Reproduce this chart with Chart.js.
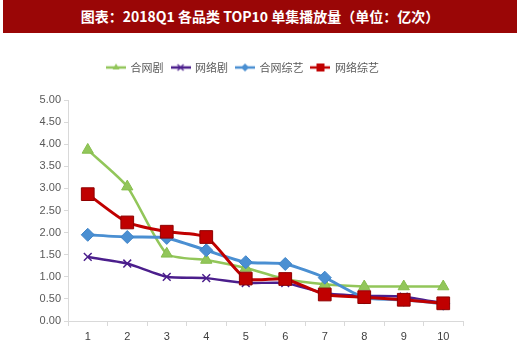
<!DOCTYPE html>
<html>
<head>
<meta charset="utf-8">
<script src="https://cdn.jsdelivr.net/npm/chart.js@4/dist/chart.umd.min.js"></script>
<style>
  html, body { margin: 0; padding: 0; background: #ffffff; }
  #wrap { position: relative; width: 520px; height: 346px; }
  #banner { position: absolute; left: 3px; top: 0; width: 514px; height: 33px; background: #9a0606;
            color: #ffffff; font-family: "Noto Sans CJK SC", "DejaVu Serif", serif; font-weight: bold;
            font-size: 14px; line-height: 33px; text-align: center; }
  canvas { position: absolute; left: 0; top: 0; }
</style>
</head>
<body>
<div id="wrap">
  <canvas id="c" width="520" height="346"></canvas>
  <div id="banner">图表：2018Q1 各品类 TOP10 单集播放量（单位：亿次）</div>
</div>
<script>
const categories = ['1', '2', '3', '4', '5', '6', '7', '8', '9', '10'];
const seriesNames = ['合网剧', '网络剧', '合网综艺', '网络综艺'];
const heWangJu     = [3.87, 3.04, 1.52, 1.38, 1.20, 0.95, 0.83, 0.78, 0.78, 0.78];
const wangLuoJu    = [1.45, 1.30, 1.00, 0.97, 0.86, 0.86, 0.63, 0.57, 0.55, 0.40];
const heWangZongYi = [1.95, 1.90, 1.88, 1.60, 1.33, 1.29, 0.98, 0.53, 0.48, 0.39];
const wangLuoZongYi= [2.87, 2.23, 2.02, 1.90, 0.96, 0.95, 0.60, 0.54, 0.48, 0.40];
const yTicks = [0, 0.5, 1, 1.5, 2, 2.5, 3, 3.5, 4, 4.5, 5];

const styles = [
  { color: '#92c65a', border: '#86bd4c', point: 'triangle', pr: 6.5, lw: 2.5, order: 4 },
  { color: '#4b1e8c', border: '#4b1e8c', point: 'crossRot', pr: 5.5, lw: 2.5, order: 3 },
  { color: '#4a8fd2', border: '#3f84c8', point: 'rectRot', pr: 6.5, lw: 3, order: 2 },
  { color: '#c00000', border: '#8e0000', point: 'rect', pr: 9, lw: 3, order: 1 }
];
const values = [heWangJu, wangLuoJu, heWangZongYi, wangLuoZongYi];

function legendIcon(s) {
  const cv = document.createElement('canvas');
  cv.width = 20; cv.height = 12;
  const ctx = cv.getContext('2d');
  ctx.strokeStyle = s.color; ctx.lineWidth = 2.5;
  ctx.beginPath(); ctx.moveTo(0, 6); ctx.lineTo(20, 6); ctx.stroke();
  ctx.fillStyle = s.color; ctx.strokeStyle = s.border; ctx.lineWidth = 1.2;
  if (s.point === 'triangle') {
    ctx.beginPath(); ctx.moveTo(10, 2); ctx.lineTo(13.5, 8); ctx.lineTo(6.5, 8); ctx.closePath(); ctx.fill();
  } else if (s.point === 'crossRot') {
    ctx.strokeStyle = s.color; ctx.lineWidth = 1.3;
    ctx.beginPath(); ctx.moveTo(7, 3); ctx.lineTo(13, 9); ctx.moveTo(13, 3); ctx.lineTo(7, 9); ctx.stroke();
  } else if (s.point === 'rectRot') {
    ctx.beginPath(); ctx.moveTo(10, 2); ctx.lineTo(14, 6); ctx.lineTo(10, 10); ctx.lineTo(6, 6); ctx.closePath(); ctx.fill();
  } else {
    ctx.fillRect(6, 2, 8, 8);
  }
  return cv;
}

const datasets = values.map((v, i) => {
  const s = styles[i];
  return {
    label: seriesNames[i],
    data: v,
    borderColor: s.color,
    backgroundColor: s.color,
    borderWidth: s.lw,
    pointStyle: s.point,
    pointRadius: s.pr,
    pointBackgroundColor: s.color,
    pointBorderColor: s.point === 'crossRot' ? s.color : s.border,
    pointBorderWidth: s.point === 'crossRot' ? 1.5 : 1,
    tension: 0.2,
    order: s.order,
    legendIcon: legendIcon(s)
  };
});

const legendHeightPlugin = {
  id: 'legendHeight',
  afterInit(chart) {
    const lg = chart.legend;
    if (!lg) return;
    const orig = lg.fit;
    lg.fit = function () { orig.call(this); this.height = 46; };
  }
};

new Chart(document.getElementById('c'), {
  type: 'line',
  data: { labels: categories, datasets: datasets },
  plugins: [legendHeightPlugin],
  options: {
    responsive: false,
    animation: false,
    layout: { padding: { left: 23, right: 57, top: 54, bottom: 0 } },
    plugins: {
      tooltip: { enabled: false },
      legend: {
        position: 'top',
        labels: {
          usePointStyle: true,
          pointStyleWidth: 18,
          padding: 8,
          color: '#595959',
          font: { family: '"Noto Sans CJK SC", sans-serif', size: 11 },
          generateLabels(chart) {
            return chart.data.datasets.map((d, i) => ({
              text: d.label,
              pointStyle: d.legendIcon,
              fillStyle: d.backgroundColor,
              strokeStyle: d.borderColor,
              lineWidth: 0,
              hidden: false,
              datasetIndex: i,
              fontColor: '#595959'
            }));
          }
        }
      }
    },
    scales: {
      x: {
        offset: true,
        grid: { display: true, drawOnChartArea: false, offset: true, color: '#d9d9d9', tickLength: 5 },
        border: { display: true, color: '#d9d9d9', width: 1 },
        ticks: { color: '#404040', padding: 4, font: { family: '"Liberation Sans Narrow", "Liberation Sans", sans-serif', size: 11 } },
        afterFit(s) { s.height = 25; }
      },
      y: {
        min: 0, max: 5,
        afterBuildTicks(s) { s.ticks = yTicks.map(v => ({ value: v })); },
        grid: { display: true, drawOnChartArea: false, color: '#d9d9d9', tickLength: 4 },
        border: { display: true, color: '#d9d9d9', width: 1 },
        ticks: {
          color: '#595959', padding: 3,
          font: { family: '"Liberation Sans Narrow", "Liberation Sans", sans-serif', size: 11 },
          callback: (v) => Number(v).toFixed(2)
        },
        afterFit(s) { s.width = 45; }
      }
    }
  }
});
</script>
</body>
</html>
